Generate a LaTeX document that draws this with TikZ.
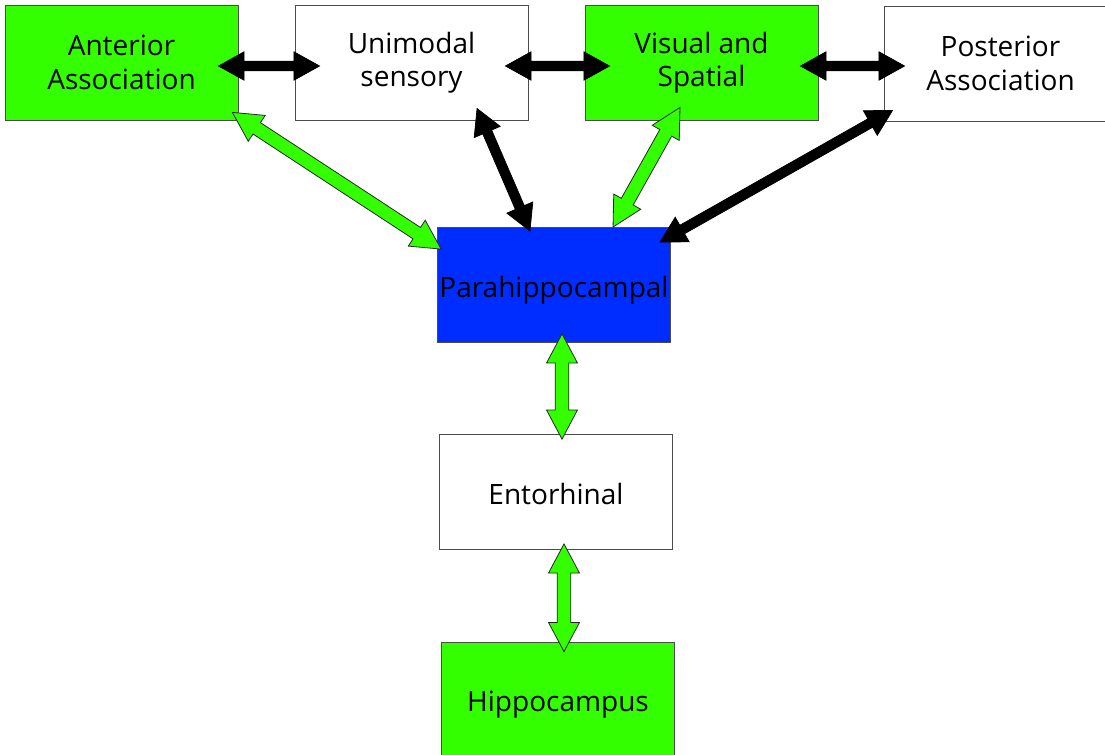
\documentclass[tikz,border=0pt]{standalone}
\usepackage{fontspec}
\setmainfont{Open Sans}
\usetikzlibrary{shapes.arrows,calc}
\definecolor{areagreen}{RGB}{51,255,0}
\definecolor{areablue}{RGB}{0,45,255}
% two-headed block arrow between two named points
\newcommand{\biarrow}[3]{%
  \path let \p1 = ($(#3)-(#2)$) in
    (#2) -- node[#1, sloped, midway, minimum height={veclen(\x1,\y1)}] {} (#3);}

\begin{document}
\begin{tikzpicture}[
                  x = 0.75pt,
                  y = -0.75pt,
       area/.style = {draw=black!70, line width=0.6pt, minimum width=174.75pt,
                      minimum height=86.25pt, inner sep=1pt, align=center,
                      font=\fontsize{21}{25}\selectfont},
    oneline/.style = {text height=23pt, text depth=5pt},
      assoc/.style = {area, fill=areagreen},
      plain/.style = {area, fill=white},
        hub/.style = {area, fill=areablue},
  blacklink/.style = {double arrow, draw=black, fill=black, line width=0.5pt,
                      inner sep=0pt, inner ysep=3.4pt, minimum width=0pt,
                      double arrow head extend=7pt, double arrow tip angle=58},
  greenlink/.style = {double arrow, draw=black!85, fill=areagreen, line width=0.6pt,
                      inner sep=0pt, inner ysep=4.8pt, minimum width=0pt,
                      double arrow head extend=6.5pt, double arrow tip angle=56},
                    ]
\clip (0,0) rectangle (1105,754);

% areas
\node[assoc] (ant)   at (121.5,62.5)  {Anterior\\Association};
\node[plain] (uni)   at (411.5,62.5)  {Unimodal\\sensory};
\node[assoc] (vis)   at (701.5,62.5)  {Visual and\\Spatial};
\node[plain] (post)  at (1000.5,63.5) {Posterior\\Association};
\node[hub, oneline]   (para)  at (554,285)   {Parahippocampal};
\node[plain, oneline] (ento)  at (556,492)   {Entorhinal};
\node[assoc, oneline] (hippo) at (558,699.5) {Hippocampus};

% arrow ends
\coordinate (a1) at ($(ant.east)+(-20,3.5)$);
\coordinate (u1) at ($(uni.west)+(25,3.5)$);
\coordinate (u2) at ($(uni.east)+(-23,3.5)$);
\coordinate (v1) at ($(vis.west)+(25,3.5)$);
\coordinate (v2) at ($(vis.east)+(-18,3.5)$);
\coordinate (p1) at ($(post.west)+(21,2.5)$);
\coordinate (u3) at ($(uni.south)+(65.5,-12)$);
\coordinate (h1) at ($(para.north)+(-24,4)$);
\coordinate (p2) at ($(post.south west)+(9,-11)$);
\coordinate (h2) at ($(para.north east)+(-11,15)$);
\coordinate (a2) at ($(ant.south east)+(-6,-8)$);
\coordinate (h3) at ($(para.north west)+(4,22)$);
\coordinate (v3) at ($(vis.south)+(-21.5,-13)$);
\coordinate (h4) at ($(para.north)+(59,0)$);
\coordinate (h5) at ($(para.south)+(8,-9)$);
\coordinate (e1) at ($(ento.north)+(6,5)$);
\coordinate (e2) at ($(ento.south)+(8,-6)$);
\coordinate (c1) at ($(hippo.north)+(6,10)$);

\biarrow{blacklink}{a1}{u1}
\biarrow{blacklink}{u2}{v1}
\biarrow{blacklink}{v2}{p1}
\biarrow{blacklink}{u3}{h1}
\biarrow{blacklink}{p2}{h2}
\biarrow{greenlink}{a2}{h3}
\biarrow{greenlink}{v3}{h4}
\biarrow{greenlink}{h5}{e1}
\biarrow{greenlink}{e2}{c1}
\end{tikzpicture}
\end{document}
